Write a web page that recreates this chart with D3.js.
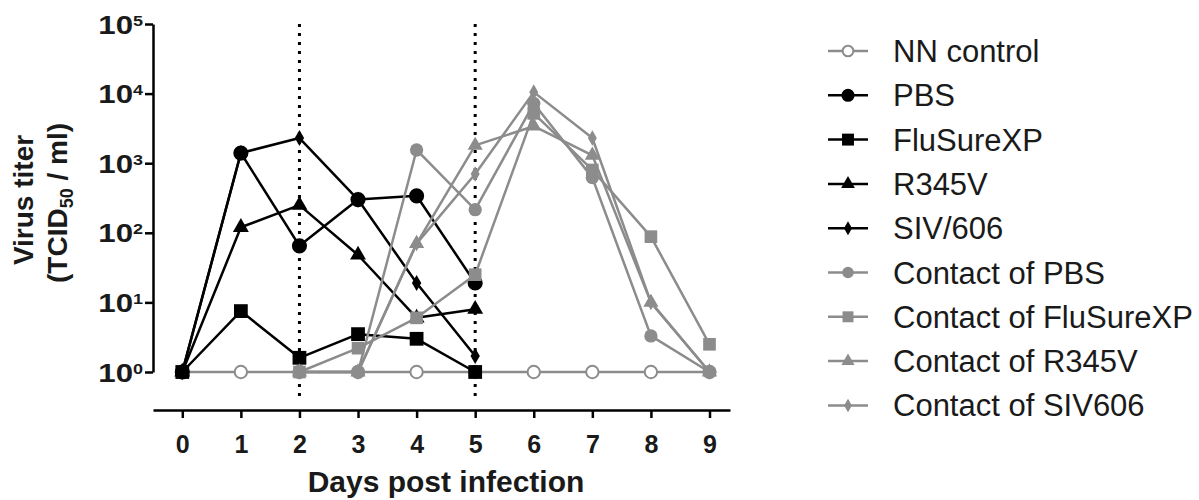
<!DOCTYPE html>
<html>
<head>
<meta charset="utf-8">
<script src="https://cdn.jsdelivr.net/npm/d3@7"></script>
<style>
  html, body { margin: 0; padding: 0; background: #fff; }
  svg { display: block; font-family: Arial, "Liberation Sans", Helvetica, sans-serif; }
</style>
</head>
<body>
<svg id="chart" width="1199" height="500"></svg>
<script>
// Days sampled for inoculated pigs and for their contacts
const days = [0, 1, 2, 3, 4, 5, 6, 7, 8, 9];
const inoculatedDays = [0, 1, 2, 3, 4, 5];
const contactDays = [2, 3, 4, 5, 6, 7, 8, 9];

// Virus titer (TCID50 / ml) per group
const nnControl = [1, 1, 1, 1, 1, 1, 1, 1, 1, 1];
const pbs = [1, 1400, 65, 300, 340, 19];
const fluSureXP = [1, 7.5, 1.6, 3.5, 3.0, 1];
const r345v = [1, 120, 250, 48, 6, 8];
const siv606 = [1, 1400, 2300, 300, 19, 1.7];
const contactPBS = [1, 1, 1550, 215, 7200, 620, 3.3, 1];
const contactFluSureXP = [1, 2.2, 6, 25, 5200, 800, 88, 2.5];
const contactR345V = [1, 1, 70, 1800, 3400, 1300, 10, 1];
const contactSIV606 = [1, 1, 70, 700, 10500, 2300, 10, 1];

// Axis ticks and reference days (dotted lines)
const yTickValues = [1, 10, 100, 1000, 10000, 100000];
const yTickExponents = ["0", "1", "2", "3", "4", "5"];
const markerDays = [2, 5];

const seriesNames = ["NN control", "PBS", "FluSureXP", "R345V", "SIV/606",
  "Contact of PBS", "Contact of FluSureXP", "Contact of R345V", "Contact of SIV606"];

const black = "#000000";
const grey = "#8c8c8c";

const series = [
  { name: seriesNames[0], xs: days, ys: nnControl, color: grey, shape: d3.symbolCircle, size: 120, open: true },
  { name: seriesNames[1], xs: inoculatedDays, ys: pbs, color: black, shape: d3.symbolCircle, size: 180 },
  { name: seriesNames[2], xs: inoculatedDays, ys: fluSureXP, color: black, shape: d3.symbolSquare, size: 190 },
  { name: seriesNames[3], xs: inoculatedDays, ys: r345v, color: black, shape: d3.symbolTriangle, size: 110 },
  { name: seriesNames[4], xs: inoculatedDays, ys: siv606, color: black, shape: d3.symbolDiamond, size: 75 },
  { name: seriesNames[5], xs: contactDays, ys: contactPBS, color: grey, shape: d3.symbolCircle, size: 140 },
  { name: seriesNames[6], xs: contactDays, ys: contactFluSureXP, color: grey, shape: d3.symbolSquare, size: 160 },
  { name: seriesNames[7], xs: contactDays, ys: contactR345V, color: grey, shape: d3.symbolTriangle, size: 100 },
  { name: seriesNames[8], xs: contactDays, ys: contactSIV606, color: grey, shape: d3.symbolDiamond, size: 70 }
];

const svg = d3.select("#chart");

const x = d3.scaleLinear().domain([-0.5, 9.35]).range([153, 730]);
const y = d3.scaleLog().domain([1, 100000]).range([372, 24]);

const xAxisY = 410;
const yAxisX = 153;

// Y axis with 10^n labels
const yAxis = svg.append("g")
  .attr("transform", `translate(${yAxisX},0)`)
  .call(d3.axisLeft(y).tickValues(yTickValues).tickSize(8).tickSizeOuter(0).tickFormat(""));
yAxis.select(".domain").attr("stroke", black).attr("stroke-width", 2.5);
yAxis.selectAll(".tick line").attr("stroke", black).attr("stroke-width", 2.5);
const labelStretch = 1.2;
yAxis.selectAll(".tick").each(function (d, i) {
  const t = d3.select(this).append("text")
    .attr("transform", `scale(${labelStretch},1)`)
    .attr("x", -10 / labelStretch)
    .attr("y", 9)
    .attr("text-anchor", "end")
    .attr("fill", "#1a1a1a")
    .attr("font-weight", "bold")
    .attr("font-size", 26);
  t.append("tspan").text("10");
  t.append("tspan").attr("dy", -8).attr("font-size", 15).text(yTickExponents[i]);
});

// X axis, drawn offset below the plot
const xAxis = svg.append("g")
  .attr("transform", `translate(0,${xAxisY})`)
  .call(d3.axisBottom(x).tickValues(days).tickSize(8).tickSizeOuter(0).tickFormat(d3.format("d")));
xAxis.select(".domain").attr("stroke", black).attr("stroke-width", 2.5);
xAxis.selectAll(".tick line").attr("stroke", black).attr("stroke-width", 2.5);
xAxis.selectAll(".tick text")
  .attr("y", 43).attr("dy", null)
  .attr("fill", "#1a1a1a")
  .attr("font-weight", "bold")
  .attr("font-size", 25)
  .attr("font-family", "Arial, 'Liberation Sans', sans-serif");

// Axis titles
svg.append("text")
  .attr("x", 446).attr("y", 492)
  .attr("text-anchor", "middle")
  .attr("font-weight", "bold").attr("font-size", 30)
  .attr("fill", "#1a1a1a")
  .text("Days post infection");

svg.append("text")
  .attr("transform", "translate(33,200) rotate(-90)")
  .attr("text-anchor", "middle")
  .attr("font-weight", "bold").attr("font-size", 28)
  .attr("fill", "#1a1a1a")
  .text("Virus titer");
const yt2 = svg.append("text")
  .attr("transform", "translate(67,203) rotate(-90)")
  .attr("text-anchor", "middle")
  .attr("font-weight", "bold").attr("font-size", 28)
  .attr("fill", "#1a1a1a");
yt2.append("tspan").text("(TCID");
yt2.append("tspan").attr("dy", 6).attr("font-size", 18).text("50");
yt2.append("tspan").attr("dy", -6).text(" / ml)");

// Dotted reference lines
svg.append("g").selectAll("line")
  .data(markerDays)
  .join("line")
  .attr("x1", d => x(d)).attr("x2", d => x(d))
  .attr("y1", y(100000)).attr("y2", 399)
  .attr("stroke", black)
  .attr("stroke-width", 3)
  .attr("stroke-dasharray", "3,6");

// Series lines and markers
const line = d3.line().x(d => x(d[0])).y(d => y(d[1]));
const plot = svg.append("g");
series.forEach(s => {
  const pts = s.xs.map((d, i) => [d, s.ys[i]]);
  const g = plot.append("g");
  g.append("path")
    .attr("d", line(pts))
    .attr("fill", "none")
    .attr("stroke", s.color)
    .attr("stroke-width", 2.5)
    .attr("stroke-linejoin", "round");
  g.selectAll("path.pt")
    .data(pts)
    .join("path")
    .attr("class", "pt")
    .attr("transform", d => `translate(${x(d[0])},${y(d[1])})`)
    .attr("d", d3.symbol().type(s.shape).size(s.size))
    .attr("fill", s.open ? "#fff" : s.color)
    .attr("stroke", s.color)
    .attr("stroke-width", s.open ? 2 : 0);
});

// Legend
const legend = svg.append("g");
series.forEach((s, i) => {
  const ly = 51 + i * 44.3;
  const g = legend.append("g").attr("transform", `translate(0,${ly})`);
  g.append("line")
    .attr("x1", 828).attr("x2", 868).attr("y1", 0).attr("y2", 0)
    .attr("stroke", s.color).attr("stroke-width", 2.5);
  g.append("path")
    .attr("transform", "translate(848,0)")
    .attr("d", d3.symbol().type(s.shape).size(s.size * 0.75))
    .attr("fill", s.open ? "#fff" : s.color)
    .attr("stroke", s.color)
    .attr("stroke-width", s.open ? 2 : 0);
  g.append("text")
    .attr("x", 893).attr("y", 11)
    .attr("font-size", 31)
    .attr("fill", "#1a1a1a")
    .text(s.name);
});
</script>
</body>
</html>
